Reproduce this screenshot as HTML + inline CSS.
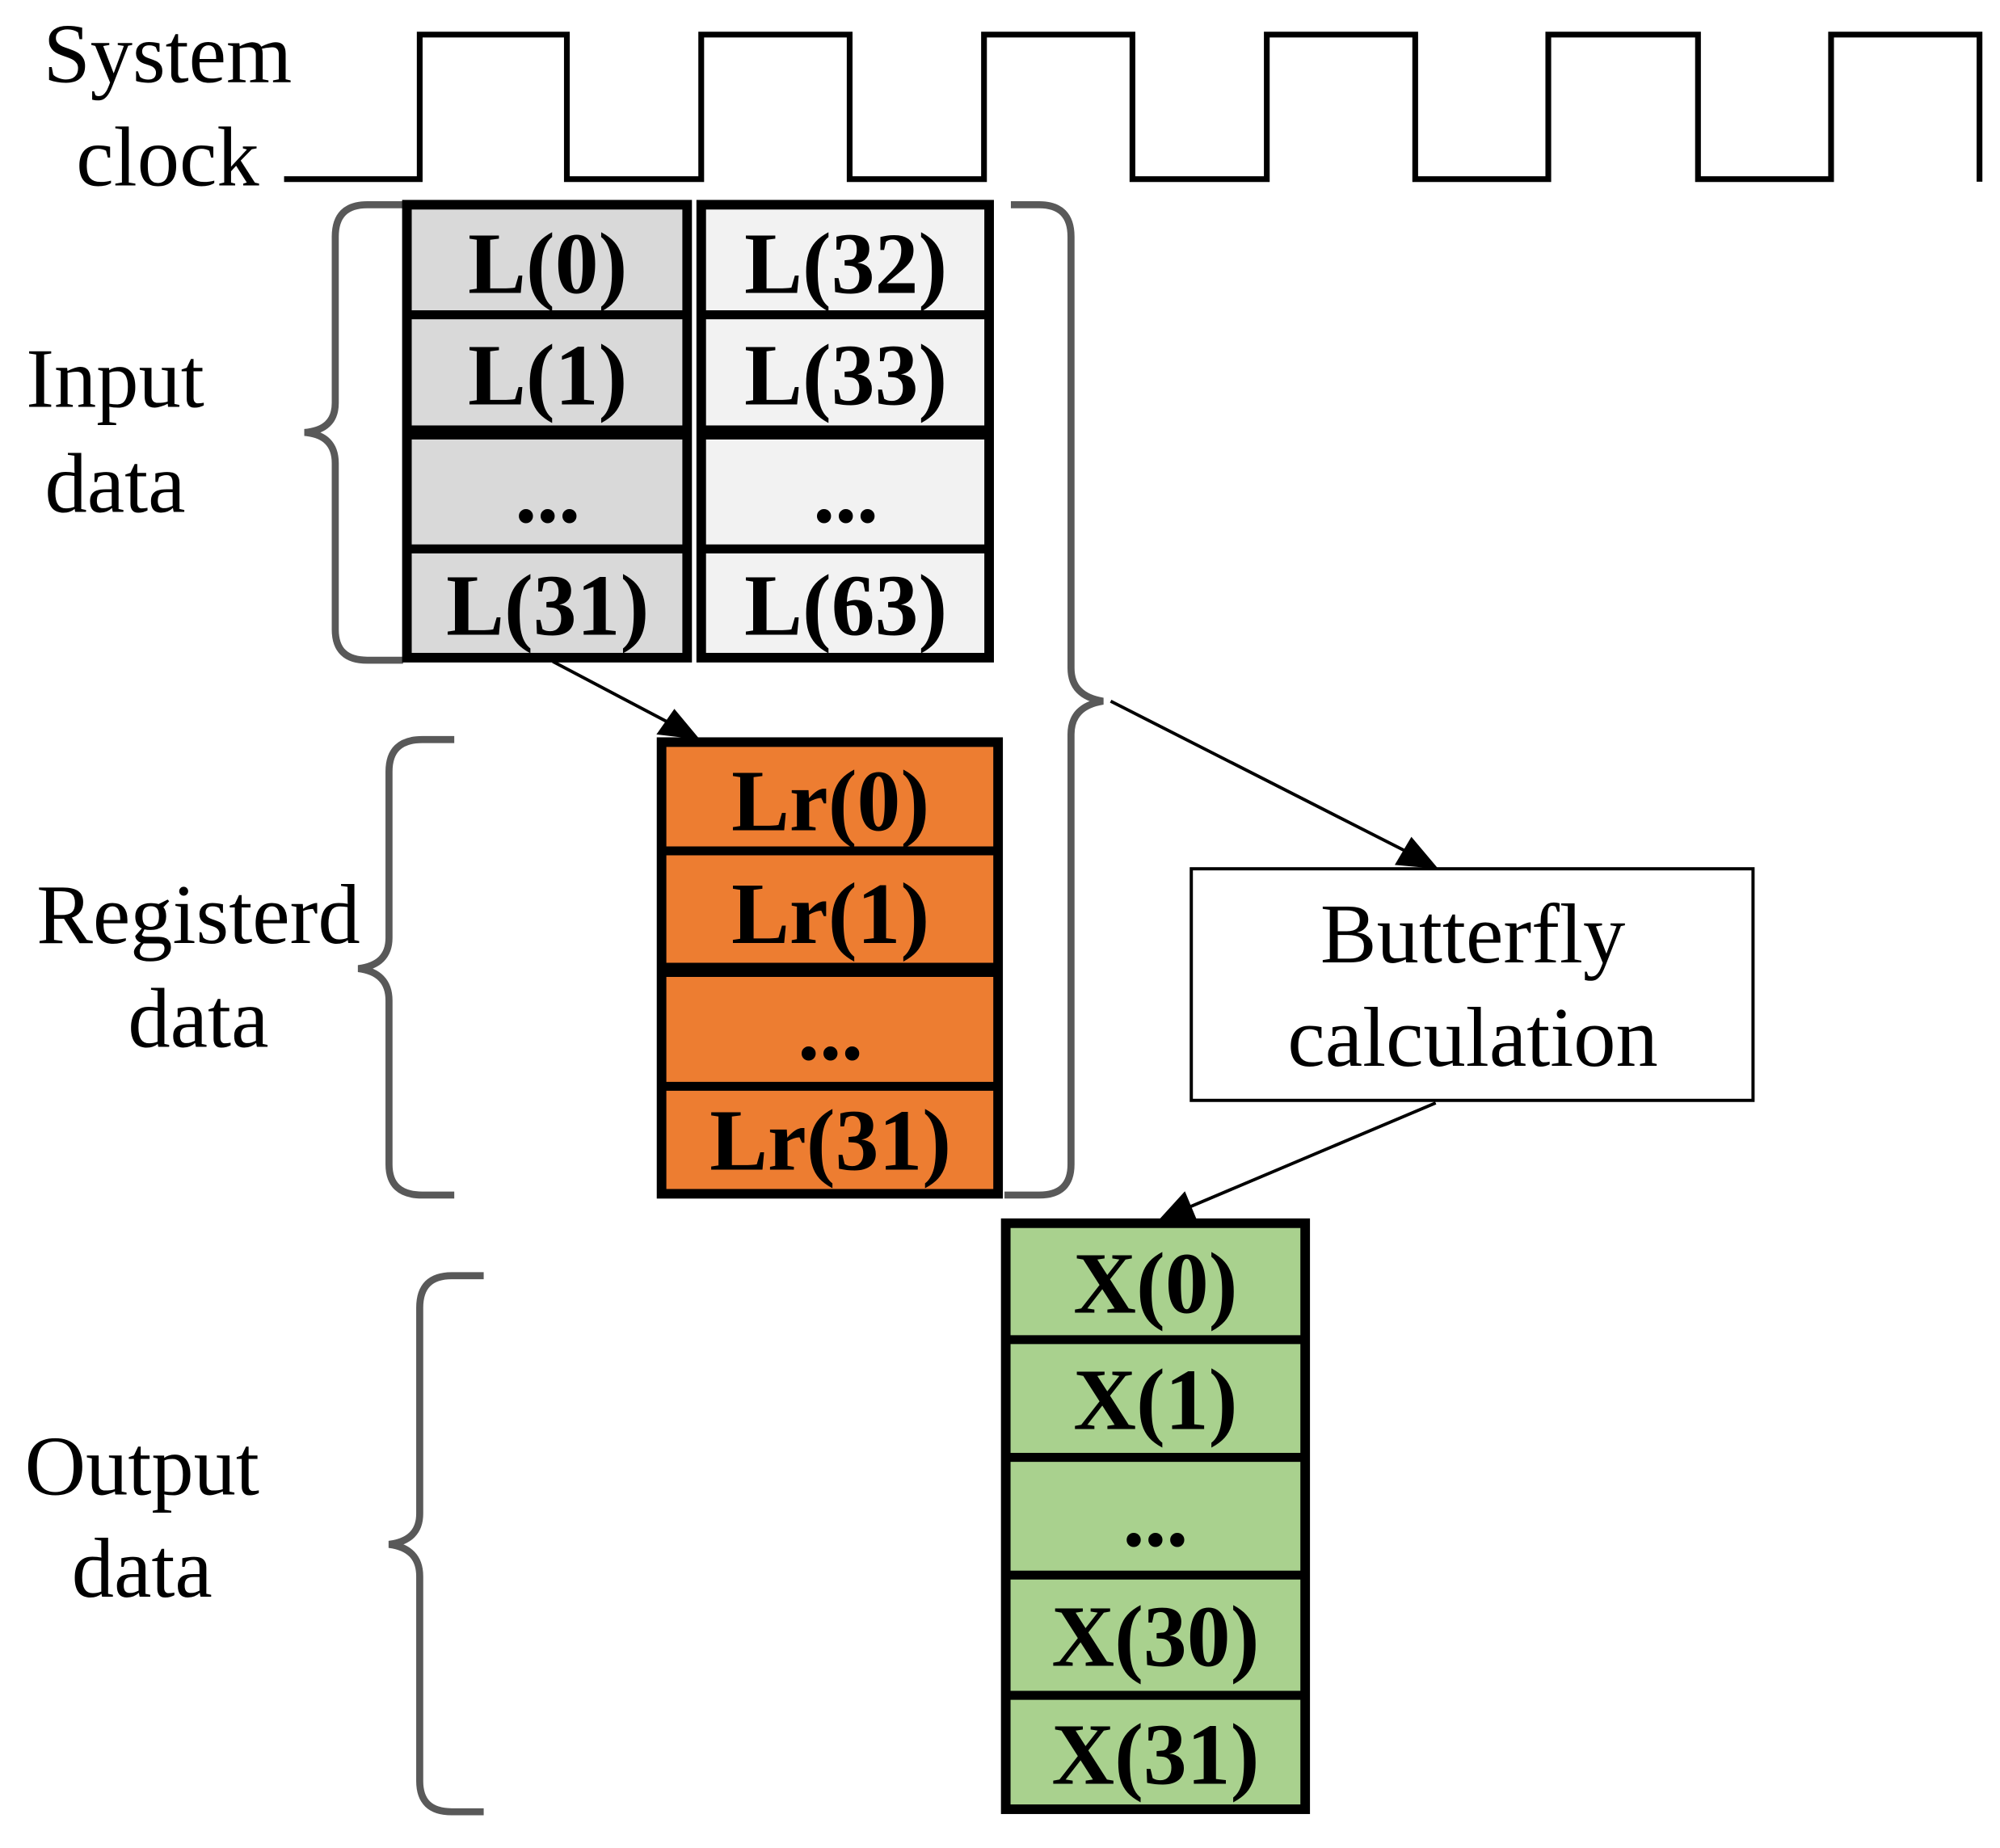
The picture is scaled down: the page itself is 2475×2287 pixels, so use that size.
<!DOCTYPE html>
<html><head><meta charset="utf-8"><style>
html,body{margin:0;padding:0;background:#fff;}
svg{display:block;}
text{font-family:"Liberation Serif",serif;}
.lbl{font-size:66px;fill:#000;text-anchor:middle;}
.cell{font-size:68px;font-weight:bold;fill:#000;text-anchor:middle;}
.br{fill:none;stroke:#595959;stroke-width:5.5;}
</style></head><body>
<svg width="2475" height="2287" viewBox="0 0 1563 1444.3" xmlns="http://www.w3.org/2000/svg">
<!-- clock -->
<polyline fill="none" stroke="#000" stroke-width="4.5" points="222,140 328,140 328,27 443,27 443,140 548,140 548,27 664,27 664,140 769,140 769,27 885,27 885,140 990,140 990,27 1106,27 1106,140 1210,140 1210,27 1327,27 1327,140 1431,140 1431,27 1547,27 1547,142"/>
<text class="lbl" x="131" y="64">System</text>
<text class="lbl" x="131" y="145">clock</text>
<text class="lbl" x="90" y="318">Input</text>
<text class="lbl" x="90" y="400">data</text>
<text class="lbl" x="155" y="737">Registerd</text>
<text class="lbl" x="155" y="818">data</text>
<text class="lbl" x="111" y="1168">Output</text>
<text class="lbl" x="111" y="1248">data</text>

<!-- braces -->
<path class="br" d="M315,160 H287 Q262,160 262,185 V315 Q262,336 238,338 Q262,340 262,362 V492 Q262,516 287,516 H315"/>
<path class="br" d="M790,160 H812 Q837,160 837,185 V522 Q837,544 862,548 Q837,552 837,574 V910 Q837,934 812,934 H785"/>
<path class="br" d="M355,578 H330 Q304,578 304,603 V733 Q304,754 280,757 Q304,760 304,782 V910 Q304,934 330,934 H355"/>
<path class="br" d="M378,997 H353 Q328,997 328,1022 V1183 Q328,1204 304,1207 Q328,1210 328,1232 V1392 Q328,1416 353,1416 H378"/>

<!-- input grid -->
<rect x="318" y="160" width="219" height="354" fill="#d9d9d9" stroke="#000" stroke-width="7.5"/>
<rect x="548" y="160" width="225" height="354" fill="#f2f2f2" stroke="#000" stroke-width="7.5"/>
<g stroke="#000">
<line x1="318" y1="246" x2="537" y2="246" stroke-width="7"/>
<line x1="548" y1="246" x2="773" y2="246" stroke-width="7"/>
<line x1="318" y1="338" x2="537" y2="338" stroke-width="11"/>
<line x1="548" y1="338" x2="773" y2="338" stroke-width="11"/>
<line x1="318" y1="429" x2="537" y2="429" stroke-width="7"/>
<line x1="548" y1="429" x2="773" y2="429" stroke-width="7"/>
</g>
<text class="cell" x="428" y="229">L(0)</text>
<text class="cell" x="661" y="229">L(32)</text>
<text class="cell" x="428" y="316">L(1)</text>
<text class="cell" x="661" y="316">L(33)</text>
<text class="cell" x="428" y="408">...</text>
<text class="cell" x="661" y="408">...</text>
<text class="cell" x="428" y="496">L(31)</text>
<text class="cell" x="661" y="496">L(63)</text>

<!-- Lr grid -->
<rect x="517" y="580" width="263" height="353" fill="#ed7d31" stroke="#000" stroke-width="7.5"/>
<g stroke="#000">
<line x1="517" y1="665" x2="780" y2="665" stroke-width="7"/>
<line x1="517" y1="758" x2="780" y2="758" stroke-width="11"/>
<line x1="517" y1="849" x2="780" y2="849" stroke-width="7"/>
</g>
<text class="cell" x="649" y="649">Lr(0)</text>
<text class="cell" x="649" y="737">Lr(1)</text>
<text class="cell" x="649" y="828">...</text>
<text class="cell" x="649" y="914">Lr(31)</text>

<!-- butterfly -->
<rect x="931" y="679" width="439" height="181" fill="#fff" stroke="#000" stroke-width="2.5"/>
<text class="lbl" x="1151" y="752">Butterfly</text>
<text class="lbl" x="1151" y="833">calculation</text>

<!-- X grid -->
<rect x="786" y="956" width="234" height="458" fill="#a9d18e" stroke="#000" stroke-width="7.5"/>
<g stroke="#000" stroke-width="7">
<line x1="786" y1="1047" x2="1020" y2="1047"/>
<line x1="786" y1="1139" x2="1020" y2="1139"/>
<line x1="786" y1="1231" x2="1020" y2="1231"/>
<line x1="786" y1="1325" x2="1020" y2="1325"/>
</g>
<text class="cell" x="903" y="1026">X(0)</text>
<text class="cell" x="903" y="1117">X(1)</text>
<text class="cell" x="903" y="1208">...</text>
<text class="cell" x="903" y="1302">X(30)</text>
<text class="cell" x="903" y="1394">X(31)</text>

<!-- arrows -->
<g stroke="#000" stroke-width="2.5" fill="#000">
<line x1="432" y1="517" x2="525" y2="566"/>
<polygon stroke="none" points="547,578 513,574 527,554"/>
<line x1="868" y1="548" x2="1102" y2="667"/>
<polygon stroke="none" points="1124,679 1090,676 1103,654"/>
<line x1="1122" y1="862" x2="928" y2="944"/>
<polygon stroke="none" points="906,953 926,931 936,955"/>
</g>
</svg>
</body></html>
